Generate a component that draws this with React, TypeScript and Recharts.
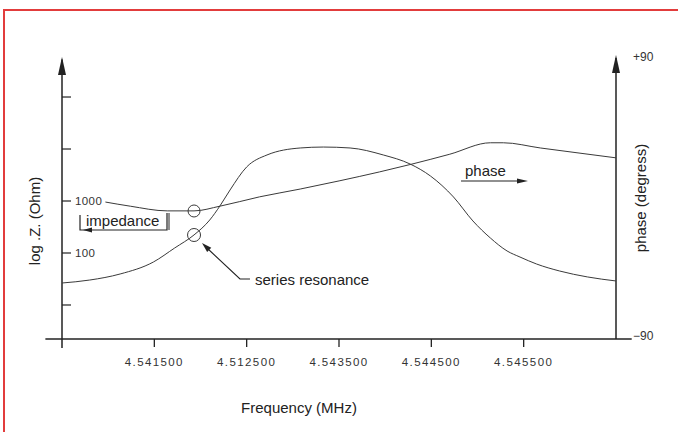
import React from 'react';
import { LineChart, Line, XAxis, YAxis, ReferenceLine, ReferenceDot } from 'recharts';

// ---- data ----
const FREQ_TICKS = [1, 2, 3, 4, 5];
const FREQ_LABELS = ['4.541500', '4.512500', '4.543500', '4.544500', '4.545500'];

const Z_TICKS = [1, 2, 3, 4, 5];
const Z_TICK_LABELS: Record<number, string> = { 3: '1000', 2: '100' };

const PHASE_TICKS = [-90, 90];
const PHASE_TICK_LABELS: Record<number, string> = { 90: '+90', [-90]: '\u221290' };

// impedance curve (log10 |Z|), read against left axis
const IMP_X = [0.47, 0.74, 1.14, 1.43, 1.71, 2.14, 2.58, 3.01, 3.44, 3.79, 4.2, 4.64, 4.78, 5.18, 5.61, 6.0];
const IMP_LOGZ = [2.98, 2.9, 2.81, 2.81, 2.9, 3.08, 3.23, 3.39, 3.56, 3.71, 3.9, 4.12, 4.12, 4.02, 3.92, 3.83];

// phase curve (degrees), read against right axis
const PHASE_X = [0, 0.3, 0.63, 0.99, 1.22, 1.43, 1.6, 1.71, 1.82, 2.0, 2.22, 2.58, 2.83, 3.12, 3.48, 3.77, 3.99, 4.24, 4.45, 4.64, 4.82, 4.96, 5.14, 5.39, 5.69, 6.0];
const PHASE_DEG = [-54, -52.1, -48.2, -40.5, -31.5, -23.1, -13.5, -4.5, 5.8, 20.6, 28.3, 32.8, 33.4, 32.8, 28.3, 22.5, 14.8, 1.3, -14.1, -25.1, -33.4, -37.3, -41.8, -46.3, -50.1, -52.7];

const impData = IMP_X.map((f, i) => ({ f, z: IMP_LOGZ[i] }));
const phaseData = PHASE_X.map((f, i) => ({ f, p: PHASE_DEG[i] }));

const Z_DOMAIN: [number, number] = [0.346, 5.731];
const F_DOMAIN: [number, number] = [0, 6];

const FONT = "'Liberation Sans', Arial, Helvetica, sans-serif";
const INK = '#222';
const CURVE = '#3a3a3a';

const XTick = (props: any) => {
  const { x, y, payload } = props;
  const i = FREQ_TICKS.indexOf(payload.value);
  return (
    <g>
      <line x1={x} y1={y} x2={x} y2={y + 8} stroke={INK} strokeWidth={1.3} />
      <text x={x} y={y + 27} textAnchor="middle" fontSize={11.5} letterSpacing={1.4} fill="#333" fontFamily={FONT}>
        {FREQ_LABELS[i]}
      </text>
    </g>
  );
};

const ZTick = (props: any) => {
  const { x, y, payload } = props;
  const label = Z_TICK_LABELS[payload.value];
  return (
    <g>
      <line x1={x} y1={y} x2={x + 9} y2={y} stroke={INK} strokeWidth={1.2} />
      {label ? (
        <text x={x + 13} y={y + 4} fontSize={11.5} letterSpacing={0.4} fill="#333" fontFamily={FONT}>
          {label}
        </text>
      ) : null}
    </g>
  );
};

const PhaseTick = (props: any) => {
  const { x, y, payload } = props;
  const label = PHASE_TICK_LABELS[payload.value];
  return (
    <text x={x + 17} y={y + (payload.value > 0 ? 2 : 1)} fontSize={12} fill="#333" fontFamily={FONT}>
      {label}
    </text>
  );
};

const ArrowUp = (props: any) => {
  const { cx, cy } = props;
  return <polygon points={`${cx},${cy} ${cx - 4},${cy + 18} ${cx + 4},${cy + 18}`} fill={INK} />;
};

const Circle = (props: any) => {
  const { cx, cy, r } = props;
  return <circle cx={cx} cy={cy} r={r} fill="none" stroke={CURVE} strokeWidth={1} />;
};

const ImpedanceBox = (props: any) => {
  const { cx, cy } = props;
  return (
    <g>
      <text x={cx + 6} y={cy - 4} fontSize={15} fill={INK} fontFamily={FONT}>impedance</text>
      <polyline points={`${cx},${cy - 15} ${cx},${cy} ${cx + 87},${cy} ${cx + 87},${cy - 17}`} fill="none" stroke={INK} strokeWidth={1.2} />
      <line x1={cx + 89} y1={cy - 17} x2={cx + 89} y2={cy} stroke={INK} strokeWidth={1} />
      <polygon points={`${cx + 3},${cy} ${cx + 12},${cy - 2.5} ${cx + 12},${cy + 2.5}`} fill={INK} />
    </g>
  );
};

const PhaseArrow = (props: any) => {
  const { cx, cy } = props;
  return (
    <g>
      <text x={cx + 4} y={cy - 5} fontSize={15} fill={INK} fontFamily={FONT}>phase</text>
      <line x1={cx} y1={cy} x2={cx + 58} y2={cy} stroke={INK} strokeWidth={1.1} />
      <polygon points={`${cx + 67},${cy} ${cx + 56},${cy - 2.5} ${cx + 56},${cy + 2.5}`} fill={INK} />
    </g>
  );
};

const ResonanceNote = (props: any) => {
  const { cx, cy } = props;
  return (
    <g>
      <polyline points={`${cx + 5},${cy + 5} ${cx + 38},${cy + 36} ${cx + 48},${cy + 36}`} fill="none" stroke={INK} strokeWidth={1.1} />
      <polygon points={`${cx},${cy} ${cx + 9.3},${cy + 4.7} ${cx + 5.2},${cy + 9.1}`} fill={INK} />
      <text x={cx + 53} y={cy + 42} fontSize={15} fill={INK} fontFamily={FONT}>series resonance</text>
    </g>
  );
};

const makeText = (text: string, rotate: boolean) => (props: any) => {
  const { cx, cy } = props;
  return (
    <text
      x={cx}
      y={cy}
      textAnchor="middle"
      dominantBaseline="central"
      fontSize={15}
      fill={INK}
      fontFamily={FONT}
      transform={rotate ? `rotate(-90, ${cx}, ${cy})` : undefined}
    >
      {text}
    </text>
  );
};

const YLabel = makeText('log .Z. (Ohm)', true);
const Y2Label = makeText('phase (degress)', true);
const XLabel = makeText('Frequency (MHz)', false);

export default function App() {
  return (
    <div style={{ position: 'fixed', left: 0, top: 0, width: 678, height: 432, overflow: 'hidden', background: '#fff' }}>
      <div
        style={{
          position: 'absolute',
          left: 3,
          top: 9,
          width: 720,
          height: 480,
          border: '2px solid #e23c3c',
        }}
      />
      <div style={{ position: 'absolute', left: 0, top: 0 }}>
        <LineChart width={678} height={432} margin={{ top: 59, right: 32, bottom: 63, left: 32 }}>
          <XAxis
            dataKey="f"
            type="number"
            domain={F_DOMAIN}
            allowDataOverflow
            ticks={FREQ_TICKS}
            tick={XTick}
            tickLine={false}
            axisLine={false}
            tickSize={0}
            tickMargin={0}
            height={30}
            interval={0}
          />
          <YAxis
            yAxisId="z"
            type="number"
            domain={Z_DOMAIN}
            allowDataOverflow
            ticks={Z_TICKS}
            tick={ZTick}
            tickLine={false}
            axisLine={false}
            tickSize={0}
            tickMargin={0}
            width={30}
            interval={0}
          />
          <YAxis
            yAxisId="phase"
            orientation="right"
            type="number"
            domain={[-90, 90]}
            allowDataOverflow
            ticks={PHASE_TICKS}
            tick={PhaseTick}
            tickLine={false}
            axisLine={false}
            tickSize={0}
            tickMargin={0}
            width={30}
            interval={0}
          />

          {/* axis lines */}
          <ReferenceLine yAxisId="z" ifOverflow="visible" segment={[{ x: -0.18, y: 0.346 }, { x: 6.17, y: 0.346 }]} stroke={INK} strokeWidth={1.5} />
          <ReferenceLine yAxisId="z" ifOverflow="visible" segment={[{ x: 0, y: 0.173 }, { x: 0, y: 5.72 }]} stroke={INK} strokeWidth={1.5} />
          <ReferenceLine yAxisId="z" ifOverflow="visible" segment={[{ x: 6, y: 0.346 }, { x: 6, y: 5.75 }]} stroke={INK} strokeWidth={1.5} />
          <ReferenceDot yAxisId="z" x={0} y={5.769} ifOverflow="visible" shape={<ArrowUp />} />
          <ReferenceDot yAxisId="z" x={6} y={5.808} ifOverflow="visible" shape={<ArrowUp />} />

          {/* axis titles */}
          <ReferenceDot yAxisId="z" x={-0.303} y={2.615} ifOverflow="visible" shape={<YLabel />} />
          <ReferenceDot yAxisId="z" x={6.26} y={3.058} ifOverflow="visible" shape={<Y2Label />} />
          <ReferenceDot yAxisId="z" x={2.567} y={-0.962} ifOverflow="visible" shape={<XLabel />} />

          <Line
            yAxisId="z"
            data={impData}
            dataKey="z"
            type="monotone"
            stroke={CURVE}
            strokeWidth={1}
            dot={false}
            activeDot={false}
            isAnimationActive={false}
          />
          <Line
            yAxisId="phase"
            data={phaseData}
            dataKey="p"
            type="monotone"
            stroke={CURVE}
            strokeWidth={1}
            dot={false}
            activeDot={false}
            isAnimationActive={false}
          />

          {/* annotations */}
          <ReferenceDot yAxisId="z" x={1.43} y={2.808} r={6} ifOverflow="visible" shape={<Circle />} />
          <ReferenceDot yAxisId="z" x={1.43} y={2.346} r={6.5} ifOverflow="visible" shape={<Circle />} />
          <ReferenceDot yAxisId="z" x={0.195} y={2.442} ifOverflow="visible" shape={<ImpedanceBox />} />
          <ReferenceDot yAxisId="z" x={4.321} y={3.385} ifOverflow="visible" shape={<PhaseArrow />} />
          <ReferenceDot yAxisId="z" x={1.516} y={2.192} ifOverflow="visible" shape={<ResonanceNote />} />
        </LineChart>
      </div>
    </div>
  );
}
